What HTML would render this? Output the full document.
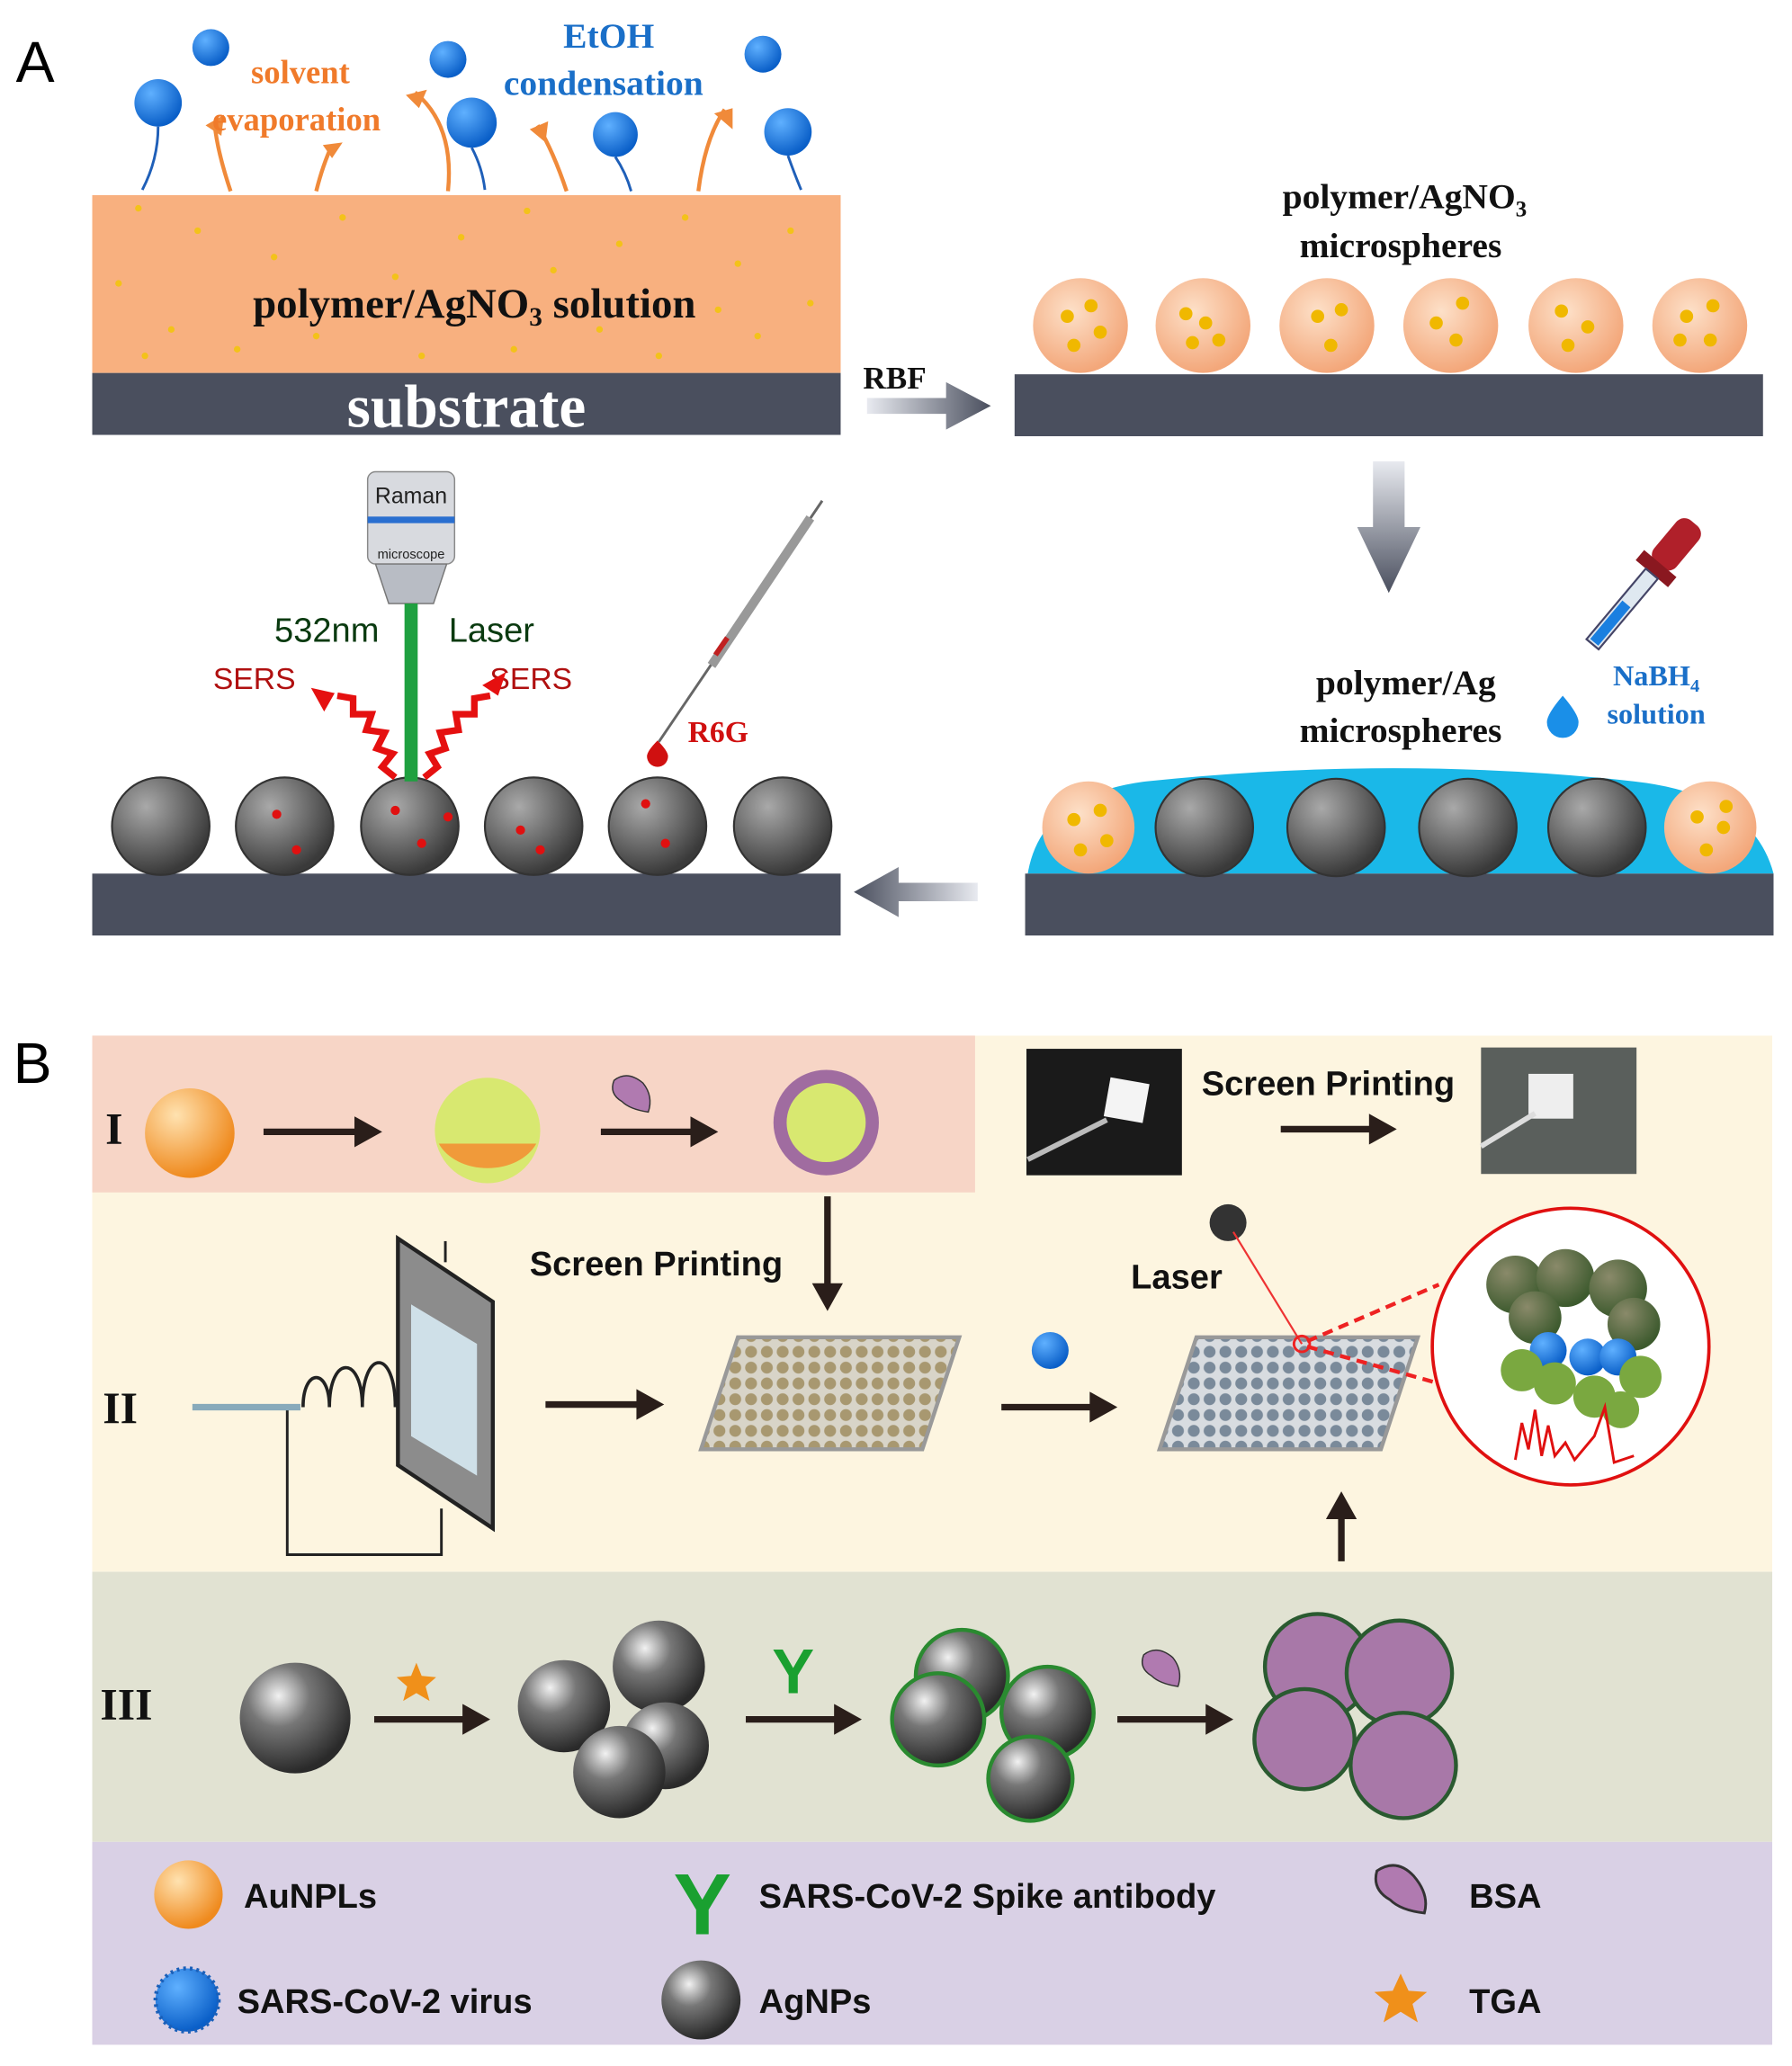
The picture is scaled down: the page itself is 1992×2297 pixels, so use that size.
<!DOCTYPE html>
<html><head><meta charset="utf-8"><style>
html,body{margin:0;padding:0;background:#fff;}
svg{display:block;}
text{font-family:"Liberation Serif",serif;}
.s{font-family:"Liberation Sans",sans-serif;}
</style></head><body>
<svg width="1992" height="2297" viewBox="0 0 1360 1568" xmlns="http://www.w3.org/2000/svg">
<defs>
<radialGradient id="orb" cx="40%" cy="35%" r="65%"><stop offset="0" stop-color="#fde0c8"/><stop offset="1" stop-color="#f3a77a"/></radialGradient>
<radialGradient id="blu" cx="35%" cy="30%" r="70%"><stop offset="0" stop-color="#5fb0ff"/><stop offset="1" stop-color="#0a5fc8"/></radialGradient>
<radialGradient id="gry" cx="35%" cy="30%" r="70%"><stop offset="0" stop-color="#a9a9a9"/><stop offset="1" stop-color="#3a3a3a"/></radialGradient>
<radialGradient id="ag" cx="35%" cy="30%" r="70%"><stop offset="0" stop-color="#f2f2f2"/><stop offset=".4" stop-color="#777"/><stop offset="1" stop-color="#2a2a2a"/></radialGradient>
<radialGradient id="au" cx="35%" cy="30%" r="70%"><stop offset="0" stop-color="#ffe2b0"/><stop offset="1" stop-color="#ef8a1e"/></radialGradient>
<radialGradient id="grn" cx="35%" cy="30%" r="70%"><stop offset="0" stop-color="#8a8a6a"/><stop offset="1" stop-color="#3d5a2e"/></radialGradient>
<linearGradient id="arr" x1="0" x2="1"><stop offset="0" stop-color="#e8eaf0"/><stop offset="1" stop-color="#4a4f5e"/></linearGradient>
<linearGradient id="arrv" x1="0" y1="0" x2="0" y2="1"><stop offset="0" stop-color="#e8eaf0"/><stop offset="1" stop-color="#4a4f5e"/></linearGradient>
<linearGradient id="arrl" x1="1" x2="0"><stop offset="0" stop-color="#e8eaf0"/><stop offset="1" stop-color="#4a4f5e"/></linearGradient>
<pattern id="dotA" width="12" height="12" patternUnits="userSpaceOnUse"><rect width="12" height="12" fill="#d8d4c8"/><circle cx="6" cy="6" r="4.5" fill="#a89870"/></pattern>
<pattern id="dotB" width="12" height="12" patternUnits="userSpaceOnUse"><rect width="12" height="12" fill="#d8dce0"/><circle cx="6" cy="6" r="4.5" fill="#7a8a9a"/></pattern>
</defs>
<rect width="1360" height="1568" fill="#fff"/>
<!-- Panel A -->
<text x="12" y="62" class="s" font-size="44" fill="#000">A</text>
<rect x="70" y="148" width="568" height="135" fill="#f8b07f"/>
<rect x="70" y="283" width="568" height="47" fill="#4a4f5e"/>
<text x="354" y="324" text-anchor="middle" font-size="46" font-weight="bold" fill="#fff">substrate</text>
<text x="360" y="241" text-anchor="middle" font-size="32" font-weight="bold" fill="#111">polymer/AgNO<tspan font-size="20" dy="6">3</tspan><tspan dy="-6"> solution</tspan></text>
<g fill="#f3c21a">
<circle cx="105" cy="158" r="2.5"/><circle cx="150" cy="175" r="2.5"/><circle cx="208" cy="195" r="2.5"/><circle cx="260" cy="165" r="2.5"/><circle cx="300" cy="210" r="2.5"/><circle cx="350" cy="180" r="2.5"/><circle cx="400" cy="160" r="2.5"/><circle cx="420" cy="205" r="2.5"/><circle cx="470" cy="185" r="2.5"/><circle cx="520" cy="165" r="2.5"/><circle cx="560" cy="200" r="2.5"/><circle cx="600" cy="175" r="2.5"/><circle cx="90" cy="215" r="2.5"/><circle cx="130" cy="250" r="2.5"/><circle cx="180" cy="265" r="2.5"/><circle cx="240" cy="255" r="2.5"/><circle cx="320" cy="270" r="2.5"/><circle cx="390" cy="265" r="2.5"/><circle cx="455" cy="250" r="2.5"/><circle cx="500" cy="270" r="2.5"/><circle cx="575" cy="255" r="2.5"/><circle cx="615" cy="230" r="2.5"/><circle cx="110" cy="270" r="2.5"/><circle cx="545" cy="235" r="2.5"/>
</g>
<g fill="url(#blu)">
<circle cx="120" cy="78" r="18"/><circle cx="160" cy="36" r="14"/><circle cx="340" cy="45" r="14"/><circle cx="358" cy="93" r="19"/><circle cx="467" cy="102" r="17"/><circle cx="579" cy="41" r="14"/><circle cx="598" cy="100" r="18"/>
</g>
<g fill="none" stroke="#1f5fb8" stroke-width="2">
<path d="M120 96 q0 25 -12 48"/><path d="M358 112 q8 15 10 32"/><path d="M467 119 q8 12 12 26"/><path d="M598 118 q5 14 10 26"/>
</g>
<g fill="none" stroke="#f08a3a" stroke-width="3">
<path d="M175 145 q-10 -30 -12 -50"/><path d="M240 145 q5 -20 12 -35"/><path d="M340 145 q5 -50 -25 -75"/><path d="M430 145 q-10 -30 -22 -50"/><path d="M530 145 q5 -40 20 -62"/>
</g>
<g fill="#f08a3a">
<path d="M156 95 l14 -8 l-2 16z"/><path d="M245 110 l15 -2 l-8 12z"/><path d="M308 72 l16 -4 l-6 14z"/><path d="M402 98 l14 -6 l-2 16z"/><path d="M542 86 l14 -4 l0 16z"/>
</g>
<text x="228" y="63" text-anchor="middle" font-size="25" font-weight="bold" fill="#f07a2a">solvent</text>
<text x="225" y="99" text-anchor="middle" font-size="25" font-weight="bold" fill="#f07a2a">evaporation</text>
<text x="462" y="36" text-anchor="middle" font-size="27" font-weight="bold" fill="#1a6fc8">EtOH</text>
<text x="458" y="72" text-anchor="middle" font-size="27" font-weight="bold" fill="#1a6fc8">condensation</text>
<text x="655" y="295" font-size="24" font-weight="bold" fill="#111">RBF</text>
<path d="M658 302 h60 v-12 l34 18 l-34 18 v-12 h-60z" fill="url(#arr)"/>
<rect x="770" y="284" width="568" height="47" fill="#4a4f5e"/>
<text x="1066" y="158" text-anchor="middle" font-size="27" font-weight="bold" fill="#111">polymer/AgNO<tspan font-size="17" dy="6">3</tspan></text>
<text x="1063" y="195" text-anchor="middle" font-size="27" font-weight="bold" fill="#111">microspheres</text>
<g>
<circle cx="820" cy="247" r="36" fill="url(#orb)"/><circle cx="913" cy="247" r="36" fill="url(#orb)"/><circle cx="1007" cy="247" r="36" fill="url(#orb)"/><circle cx="1101" cy="247" r="36" fill="url(#orb)"/><circle cx="1196" cy="247" r="36" fill="url(#orb)"/><circle cx="1290" cy="247" r="36" fill="url(#orb)"/>
</g>
<g fill="#f0b800">
<circle cx="810" cy="240" r="5"/><circle cx="828" cy="232" r="5"/><circle cx="835" cy="252" r="5"/><circle cx="815" cy="262" r="5"/><circle cx="900" cy="238" r="5"/><circle cx="915" cy="245" r="5"/><circle cx="925" cy="258" r="5"/><circle cx="905" cy="260" r="5"/><circle cx="1000" cy="240" r="5"/><circle cx="1018" cy="235" r="5"/><circle cx="1010" cy="262" r="5"/><circle cx="1090" cy="245" r="5"/><circle cx="1110" cy="230" r="5"/><circle cx="1105" cy="258" r="5"/><circle cx="1185" cy="236" r="5"/><circle cx="1205" cy="248" r="5"/><circle cx="1190" cy="262" r="5"/><circle cx="1280" cy="240" r="5"/><circle cx="1300" cy="232" r="5"/><circle cx="1298" cy="258" r="5"/><circle cx="1275" cy="258" r="5"/>
</g>
<path d="M1042 350 h24 v50 h12 l-24 50 l-24 -50 h12z" fill="url(#arrv)"/>
<path d="M780 663 q10 -60 90 -70 q190 -20 370 0 q90 10 106 70z" fill="#1ab8e8"/>
<rect x="778" y="663" width="568" height="47" fill="#4a4f5e"/>
<circle cx="826" cy="628" r="35" fill="url(#orb)"/><circle cx="1298" cy="628" r="35" fill="url(#orb)"/>
<g fill="#f0b800"><circle cx="815" cy="622" r="5"/><circle cx="835" cy="615" r="5"/><circle cx="840" cy="638" r="5"/><circle cx="820" cy="645" r="5"/><circle cx="1288" cy="620" r="5"/><circle cx="1308" cy="628" r="5"/><circle cx="1295" cy="645" r="5"/><circle cx="1310" cy="612" r="5"/></g>
<g fill="url(#gry)" stroke="#333" stroke-width="1.5">
<circle cx="914" cy="628" r="37"/><circle cx="1014" cy="628" r="37"/><circle cx="1114" cy="628" r="37"/><circle cx="1212" cy="628" r="37"/>
</g>
<text x="1067" y="527" text-anchor="middle" font-size="27" font-weight="bold" fill="#111">polymer/Ag</text>
<text x="1063" y="563" text-anchor="middle" font-size="27" font-weight="bold" fill="#111">microspheres</text>
<text x="1257" y="520" text-anchor="middle" font-size="22" font-weight="bold" fill="#1a6fc8">NaBH<tspan font-size="14" dy="5">4</tspan></text>
<text x="1257" y="549" text-anchor="middle" font-size="22" font-weight="bold" fill="#1a6fc8">solution</text>
<g transform="rotate(40 1240 450)">
<rect x="1230" y="380" width="22" height="42" rx="8" fill="#b0202a"/>
<rect x="1225" y="420" width="32" height="10" fill="#8a1820"/>
<rect x="1235" y="430" width="12" height="70" fill="#dfe8f0" stroke="#446" stroke-width="1.5"/>
<rect x="1237" y="460" width="8" height="38" fill="#1a7fe0"/>
</g>
<path d="M1186 528 q-12 14 -12 20 a12 12 0 0 0 24 0 q0 -6 -12 -20z" fill="#1a8fe8"/>
<path d="M742 670 v14 h-60 v12 l-34 -19 l34 -19 v12z" fill="url(#arrl)"/>
<rect x="70" y="663" width="568" height="47" fill="#4a4f5e"/>
<g fill="url(#gry)" stroke="#333" stroke-width="1.5">
<circle cx="122" cy="627" r="37"/><circle cx="216" cy="627" r="37"/><circle cx="311" cy="627" r="37"/><circle cx="405" cy="627" r="37"/><circle cx="499" cy="627" r="37"/><circle cx="594" cy="627" r="37"/>
</g>
<g fill="#e01010"><circle cx="210" cy="618" r="3.5"/><circle cx="225" cy="645" r="3.5"/><circle cx="300" cy="615" r="3.5"/><circle cx="320" cy="640" r="3.5"/><circle cx="340" cy="620" r="3.5"/><circle cx="395" cy="630" r="3.5"/><circle cx="410" cy="645" r="3.5"/><circle cx="490" cy="610" r="3.5"/><circle cx="505" cy="640" r="3.5"/></g>
<rect x="279" y="358" width="66" height="70" rx="6" fill="#d8dadf" stroke="#888"/>
<rect x="279" y="392" width="66" height="5" fill="#2a6fd0"/>
<path d="M285 428 h54 l-10 30 h-34z" fill="#b8bcc4" stroke="#777"/>
<text x="312" y="382" text-anchor="middle" class="s" font-size="17" fill="#222">Raman</text>
<text x="312" y="424" text-anchor="middle" class="s" font-size="10" fill="#222">microscope</text>
<rect x="307" y="458" width="10" height="135" fill="#1fa040"/>
<text x="248" y="487" text-anchor="middle" class="s" font-size="26" fill="#0a3a10">532nm</text>
<text x="373" y="487" text-anchor="middle" class="s" font-size="26" fill="#0a3a10">Laser</text>
<text x="193" y="523" text-anchor="middle" class="s" font-size="23" fill="#b01010">SERS</text>
<text x="403" y="523" text-anchor="middle" class="s" font-size="23" fill="#b01010">SERS</text>
<path d="M300 590 l-10 -8 l8 -10 l-12 -4 l6 -12 l-14 -2 l4 -12 l-14 0 l0 -12 l-12 -2" fill="none" stroke="#e51010" stroke-width="5"/>
<path d="M236 522 l18 4 l-8 14z" fill="#e51010"/>
<path d="M322 590 l10 -8 l-6 -10 l12 -4 l-4 -12 l14 -2 l-2 -12 l14 0 l0 -12 l12 -2" fill="none" stroke="#e51010" stroke-width="5"/>
<path d="M384 510 l-6 18 l-12 -8z" fill="#e51010"/>
<line x1="500" y1="563" x2="624" y2="380" stroke="#666" stroke-width="2"/>
<line x1="540" y1="505" x2="615" y2="393" stroke="#999" stroke-width="7"/>
<line x1="543" y1="497" x2="552" y2="484" stroke="#c02020" stroke-width="4"/>
<path d="M499 562 q-8 8 -8 12 a8 8 0 0 0 16 0 q0 -4 -8 -12z" fill="#d01010"/>
<text x="545" y="563" text-anchor="middle" font-size="23" font-weight="bold" fill="#d01010">R6G</text>
<!-- Panel B -->
<text x="10" y="822" class="s" font-size="44" fill="#000">B</text>
<rect x="70" y="786" width="1275" height="407" fill="#fdf5e0"/>
<rect x="70" y="786" width="670" height="119" fill="#f7d5c6"/>
<rect x="70" y="1193" width="1275" height="205" fill="#e1e2d2"/>
<rect x="70" y="1398" width="1275" height="154" fill="#d9d0e5"/>
<text x="80" y="868" font-size="34" font-weight="bold" fill="#111">I</text>
<text x="78" y="1080" font-size="34" font-weight="bold" fill="#111">II</text>
<text x="76" y="1305" font-size="34" font-weight="bold" fill="#111">III</text>
<g stroke="#2a1e1a" stroke-width="5" fill="#2a1e1a">
<line x1="200" y1="859" x2="270" y2="859"/><path d="M270 849 l18 10 l-18 10z" stroke-width="2"/>
<line x1="456" y1="859" x2="525" y2="859"/><path d="M525 849 l18 10 l-18 10z" stroke-width="2"/>
<line x1="972" y1="857" x2="1040" y2="857"/><path d="M1040 847 l18 10 l-18 10z" stroke-width="2"/>
<line x1="628" y1="908" x2="628" y2="975"/><path d="M618 975 l10 18 l10 -18z" stroke-width="2"/>
<line x1="414" y1="1066" x2="484" y2="1066"/><path d="M484 1056 l18 10 l-18 10z" stroke-width="2"/>
<line x1="760" y1="1068" x2="828" y2="1068"/><path d="M828 1058 l18 10 l-18 10z" stroke-width="2"/>
<line x1="1018" y1="1185" x2="1018" y2="1152"/><path d="M1008 1152 l10 -18 l10 18z" stroke-width="2"/>
<line x1="284" y1="1305" x2="352" y2="1305"/><path d="M352 1295 l18 10 l-18 10z" stroke-width="2"/>
<line x1="566" y1="1305" x2="634" y2="1305"/><path d="M634 1295 l18 10 l-18 10z" stroke-width="2"/>
<line x1="848" y1="1305" x2="916" y2="1305"/><path d="M916 1295 l18 10 l-18 10z" stroke-width="2"/>
</g>
<circle cx="144" cy="860" r="34" fill="url(#au)"/>
<circle cx="370" cy="858" r="40" fill="#d8e870"/><path d="M333 868 a40 30 0 0 0 74 0z" fill="#f09a3a"/>
<circle cx="627" cy="852" r="40" fill="#a06ca0"/><circle cx="627" cy="852" r="30" fill="#d8e870"/>
<path d="M466 820 q10 -8 22 2 q8 10 4 22 q-14 -2 -20 -8 q-10 -6 -6 -16z" fill="#b07ab0" stroke="#333"/>
<rect x="779" y="796" width="118" height="96" fill="#1a1a1a"/>
<rect x="840" y="820" width="30" height="30" fill="#f4f4f4" transform="rotate(10 855 835)"/>
<line x1="780" y1="880" x2="840" y2="850" stroke="#bbb" stroke-width="4"/>
<rect x="1124" y="795" width="118" height="96" fill="#5a5f5c"/>
<rect x="1160" y="815" width="34" height="34" fill="#eee"/>
<line x1="1124" y1="870" x2="1165" y2="845" stroke="#ddd" stroke-width="4"/>
<text x="1008" y="831" text-anchor="middle" class="s" font-size="26" font-weight="bold" fill="#111">Screen Printing</text>
<text x="498" y="968" text-anchor="middle" class="s" font-size="26" font-weight="bold" fill="#111">Screen Printing</text>
<text x="893" y="978" text-anchor="middle" class="s" font-size="26" font-weight="bold" fill="#111">Laser</text>
<path d="M302 940 l72 48 v172 l-72 -48z" fill="#8c8c8c" stroke="#222" stroke-width="3"/>
<path d="M312 990 l50 30 v100 l-50 -30z" fill="#cfe0e8"/>
<line x1="338" y1="958" x2="338" y2="942" stroke="#222" stroke-width="2"/>
<path d="M230 1068 c0 -30 20 -30 20 0 c0 -40 25 -40 25 0 c0 -45 25 -45 25 0" fill="none" stroke="#222" stroke-width="2.5"/>
<polyline points="218,1070 218,1180 335,1180 335,1145" fill="none" stroke="#222" stroke-width="2"/>
<line x1="146" y1="1068" x2="228" y2="1068" stroke="#8ab" stroke-width="5"/>
<path d="M560 1015 h168 l-28 85 h-168z" fill="url(#dotA)" stroke="#999" stroke-width="3"/>
<path d="M908 1015 h168 l-28 85 h-168z" fill="url(#dotB)" stroke="#999" stroke-width="3"/>
<circle cx="797" cy="1025" r="14" fill="url(#blu)"/>
<circle cx="932" cy="928" r="14" fill="#333"/>
<line x1="936" y1="935" x2="988" y2="1020" stroke="#e33" stroke-width="1.5"/>
<circle cx="988" cy="1020" r="6" fill="none" stroke="#e22" stroke-width="2"/>
<line x1="992" y1="1018" x2="1092" y2="975" stroke="#e22" stroke-width="3" stroke-dasharray="8 5"/>
<line x1="992" y1="1022" x2="1092" y2="1050" stroke="#e22" stroke-width="3" stroke-dasharray="8 5"/>
<circle cx="1192" cy="1022" r="105" fill="#fff" stroke="#e01010" stroke-width="2.5"/>
<g fill="url(#grn)"><circle cx="1150" cy="975" r="22"/><circle cx="1188" cy="970" r="22"/><circle cx="1228" cy="978" r="22"/><circle cx="1165" cy="1000" r="20"/><circle cx="1240" cy="1005" r="20"/></g>
<g fill="url(#blu)"><circle cx="1175" cy="1025" r="14"/><circle cx="1205" cy="1030" r="14"/><circle cx="1228" cy="1030" r="14"/></g>
<g fill="#7aa840"><circle cx="1155" cy="1040" r="16"/><circle cx="1180" cy="1050" r="16"/><circle cx="1210" cy="1060" r="16"/><circle cx="1245" cy="1045" r="16"/><circle cx="1230" cy="1070" r="14"/></g>
<polyline points="1150,1108 1155,1080 1160,1100 1165,1070 1170,1105 1175,1082 1180,1105 1188,1095 1195,1108 1210,1090 1218,1068 1225,1110 1240,1105" fill="none" stroke="#e01010" stroke-width="2"/>
<circle cx="224" cy="1304" r="42" fill="url(#ag)"/>
<path d="M316 1262 l4 10 l11 1 l-8 7 l3 11 l-10 -6 l-10 6 l3 -11 l-8 -7 l11 -1z" fill="#f0901a"/>
<g fill="url(#ag)"><circle cx="500" cy="1265" r="35"/><circle cx="428" cy="1295" r="35"/><circle cx="505" cy="1325" r="33"/><circle cx="470" cy="1345" r="35"/></g>
<text x="602" y="1285" text-anchor="middle" class="s" font-size="48" font-weight="bold" fill="#1aa030">Y</text>
<g fill="url(#ag)" stroke="#2a8a30" stroke-width="3"><circle cx="730" cy="1272" r="35"/><circle cx="712" cy="1305" r="35"/><circle cx="795" cy="1300" r="35"/><circle cx="782" cy="1350" r="32"/></g>
<path d="M868 1256 q10 -8 22 2 q8 10 4 22 q-14 -2 -20 -8 q-10 -6 -6 -16z" fill="#b07ab0" stroke="#333"/>
<g fill="#a878a8" stroke="#2a5a30" stroke-width="3"><circle cx="1000" cy="1265" r="40"/><circle cx="1062" cy="1270" r="40"/><circle cx="990" cy="1320" r="38"/><circle cx="1065" cy="1340" r="40"/></g>
<circle cx="143" cy="1438" r="26" fill="url(#au)"/>
<text x="185" y="1448" class="s" font-size="26" font-weight="bold" fill="#111">AuNPLs</text>
<text x="533" y="1468" text-anchor="middle" class="s" font-size="66" fill="#1aa030" font-weight="bold">Y</text>
<text x="576" y="1448" class="s" font-size="26" font-weight="bold" fill="#111">SARS-CoV-2 Spike antibody</text>
<path d="M1045 1420 q15 -10 28 4 q12 14 8 28 q-18 -2 -26 -10 q-14 -8 -10 -22z" fill="#b07ab0" stroke="#333" stroke-width="2"/>
<text x="1115" y="1448" class="s" font-size="26" font-weight="bold" fill="#111">BSA</text>
<circle cx="142" cy="1518" r="24" fill="url(#blu)" stroke="#1a5fb8" stroke-width="3" stroke-dasharray="2 3"/>
<text x="180" y="1528" class="s" font-size="26" font-weight="bold" fill="#111">SARS-CoV-2 virus</text>
<circle cx="532" cy="1518" r="30" fill="url(#ag)"/>
<text x="576" y="1528" class="s" font-size="26" font-weight="bold" fill="#111">AgNPs</text>
<path d="M1063 1498 l6 13 l14 1 l-11 9 l4 14 l-13 -8 l-13 8 l4 -14 l-11 -9 l14 -1z" fill="#f0901a"/>
<text x="1115" y="1528" class="s" font-size="26" font-weight="bold" fill="#111">TGA</text>
</svg>
</body></html>
